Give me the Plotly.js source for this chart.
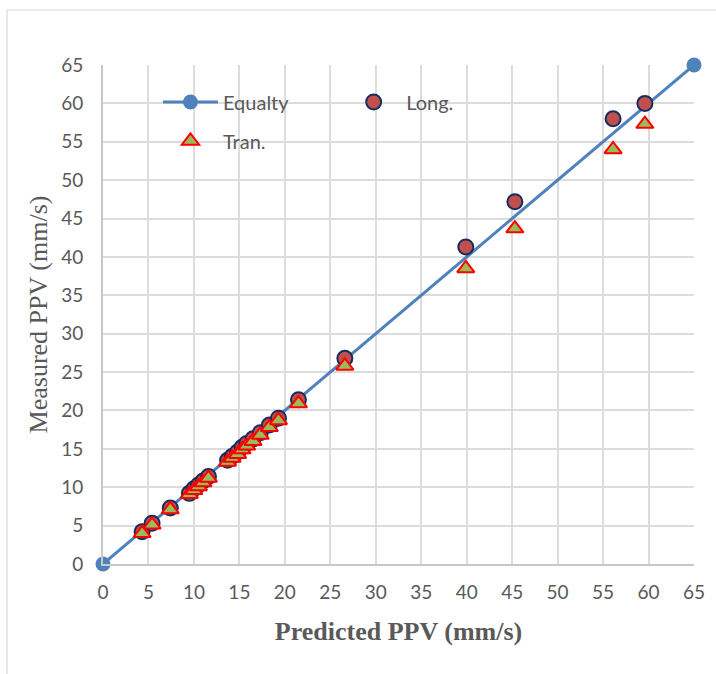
<!DOCTYPE html>
<html>
<head>
<meta charset="utf-8">
<script src="https://cdn.plot.ly/plotly-3.0.1.min.js"></script>
<style>html,body{margin:0;padding:0;background:#fff;}#chart{width:716px;height:674px;}</style>
</head>
<body>
<div id="chart"></div>
<script>
// Equality line end points
const equalityX = [0, 65];
const equalityY = [0, 65];

// Predicted PPV (mm/s)
const predicted = [4.3, 5.4, 7.4, 9.5, 10.0, 10.5, 11.0, 11.6, 13.7, 14.2, 14.8, 15.3, 15.8, 16.5, 17.3, 18.3, 19.3, 21.5, 26.6, 39.9, 45.3, 56.1, 59.6];
// Measured PPV, longitudinal (mm/s)
const measuredLong = [4.2, 5.3, 7.3, 9.2, 9.8, 10.3, 10.8, 11.4, 13.5, 14.0, 14.6, 15.2, 15.7, 16.3, 17.1, 18.1, 19.0, 21.4, 26.8, 41.3, 47.2, 58.0, 60.0];
// Measured PPV, transverse (mm/s)
const measuredTran = [4.0, 5.1, 7.1, 9.1, 9.6, 10.1, 10.6, 11.2, 13.3, 13.8, 14.3, 14.9, 15.4, 16.0, 16.8, 17.8, 18.7, 20.9, 25.8, 38.5, 43.7, 54.0, 57.3];

const tickVals = [0,5,10,15,20,25,30,35,40,45,50,55,60,65];

const traces = [
  {
    x: equalityX, y: equalityY, name: 'Equalty', type: 'scatter', mode: 'lines+markers',
    line: {color: '#4F81BD', width: 3},
    marker: {color: '#4F81BD', size: 15, symbol: 'circle'},
    cliponaxis: false,
    legend: 'legend', legendgroup: 'a'
  },
  {
    x: predicted, y: measuredLong, name: 'Long.', type: 'scatter', mode: 'markers',
    marker: {color: '#C0504D', size: 15, symbol: 'circle', line: {color: '#172D5E', width: 2}},
    cliponaxis: false,
    legend: 'legend2'
  },
  {
    x: predicted, y: measuredTran, name: 'Tran.', type: 'scatter', mode: 'markers',
    marker: {color: '#9BBB59', size: 15, symbol: 'triangle-up', line: {color: '#FF0000', width: 2}},
    cliponaxis: false,
    legend: 'legend', legendgroup: 'b'
  }
];

const tickFont = {family: 'Lato, "Open Sans", sans-serif', size: 19, color: '#595959'};
const legendFont = {family: 'Lato, "Open Sans", sans-serif', size: 20, color: '#595959'};
const titleFontFamily = '"Liberation Serif", "Times New Roman", serif';

const layout = {
  width: 716, height: 674,
  margin: {l: 103, r: 22, t: 65, b: 110},
  paper_bgcolor: '#ffffff', plot_bgcolor: '#ffffff',
  showlegend: true,
  xaxis: {
    range: [0, 65], tickvals: tickVals, ticktext: tickVals.map(String),
    showgrid: true, gridcolor: '#DCDCDC', gridwidth: 2,
    zeroline: false, showline: true, linecolor: '#C8C8C8', linewidth: 2,
    ticks: '', ticklabelstandoff: 10, tickfont: tickFont,
    title: {text: '<b>Predicted PPV (mm/s)</b>', standoff: 20,
            font: {family: titleFontFamily, size: 26, color: '#595959'}},
    fixedrange: true
  },
  yaxis: {
    range: [0, 65], tickvals: tickVals, ticktext: tickVals.map(String),
    showgrid: true, gridcolor: '#DCDCDC', gridwidth: 2,
    zeroline: false, showline: true, linecolor: '#C8C8C8', linewidth: 2,
    ticks: '', ticklabelstandoff: 14, tickfont: tickFont,
    title: {text: 'Measured PPV (mm/s)', standoff: 6,
            font: {family: titleFontFamily, size: 26, color: '#595959'}},
    fixedrange: true
  },
  legend: {
    x: 0.093, y: 0.965, xanchor: 'left', yanchor: 'top',
    bgcolor: 'rgba(0,0,0,0)', borderwidth: 0, itemwidth: 55,
    tracegroupgap: 10,
    font: legendFont
  },
  legend2: {
    x: 0.403, y: 0.965, xanchor: 'left', yanchor: 'top',
    bgcolor: 'rgba(0,0,0,0)', borderwidth: 0, itemwidth: 55,
    font: legendFont
  },
  shapes: [
    {type: 'rect', xref: 'paper', yref: 'paper',
     x0: -0.1624, x1: 1.06, y0: -0.25, y1: 1.1102,
     line: {color: '#D9D9D9', width: 1.2}, fillcolor: 'rgba(0,0,0,0)', layer: 'below'}
  ]
};

Plotly.newPlot('chart', traces, layout, {displayModeBar: false, staticPlot: true});
</script>
</body>
</html>
